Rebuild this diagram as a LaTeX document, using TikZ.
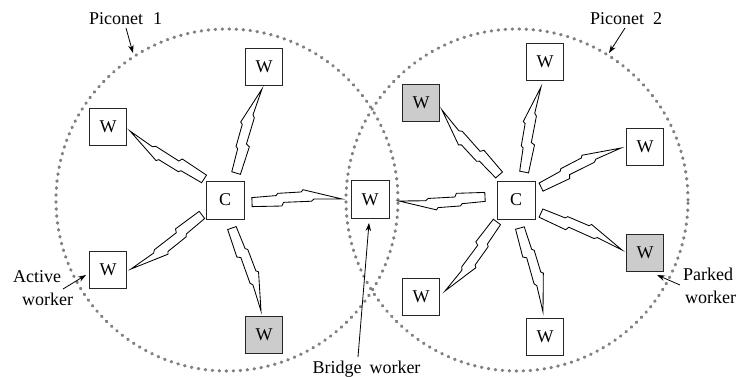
\documentclass[tikz,border=0pt]{standalone}
\usepackage{fontspec}
\setmainfont{Liberation Serif}
\usetikzlibrary{calc,arrows.meta}
\newcommand\lbolt[2]{%
 \draw[boltline] ($(#1)!4.4pt!90:(#2)$) -- ($(#1)!.27!(#2)!5.6pt!90:(#2)$) -- ($(#1)!.29!(#2)!7.8pt!90:(#2)$) -- ($(#1)!.55!(#2)!8.4pt!90:(#2)$) -- ($(#1)!.57!(#2)!10.6pt!90:(#2)$) -- (#2) -- ($(#1)!.69!(#2)!1pt!90:(#2)$) -- ($(#1)!.66!(#2)!1.2pt!-90:(#2)$) -- ($(#1)!.35!(#2)!1.4pt!-90:(#2)$) -- ($(#1)!.33!(#2)!5pt!-90:(#2)$) -- ($(#1)!4.6pt!-90:(#2)$) -- cycle;}
\begin{document}
\begin{tikzpicture}[x=1pt,y=-1pt,
 every node/.style={font=\fontsize{18}{22}\selectfont},
 wbox/.style={draw=black!85,line width=0.9pt,minimum size=37pt,inner sep=0pt,fill=white},
 parked/.style={wbox,fill=gray!40},
 piconet/.style={draw=gray,line width=3.2pt,dash pattern=on 0.6pt off 6.4pt,line cap=round},
 boltline/.style={draw=black,line width=0.85pt,line join=miter},
 pointer/.style={-{Stealth[length=8pt,width=5.5pt]},line width=0.8pt},
 lbl/.style={anchor=base west,inner sep=0pt}]
\useasboundingbox (0,0) rectangle (738,376);
% piconet borders
\draw[piconet] (227,200) circle[radius=171pt];
\draw[piconet] (517,200) circle[radius=171pt];
% nodes, piconet 1
\node[wbox] (w1a) at (264,67) {W};
\node[wbox] (w1b) at (108,127) {W};
\node[wbox,minimum size=38pt] (c1) at (225,200) {C};
\node[wbox] (w1c) at (108,270) {W};
\node[parked] (w1d) at (264,335) {W};
\node[wbox,minimum size=38pt] (wb) at (370,199.5) {W};
% nodes, piconet 2
\node[parked] (w2a) at (421,103) {W};
\node[wbox] (w2b) at (545,62) {W};
\node[wbox] (w2c) at (645,147) {W};
\node[wbox,minimum size=38pt] (c2) at (516,200) {C};
\node[parked] (w2d) at (645,253) {W};
\node[wbox] (w2e) at (421,297) {W};
\node[wbox] (w2f) at (545,337) {W};
% bolt end points
\coordinate (s1) at (236,173); \coordinate (t1) at (262,89);
\coordinate (s2) at (204,179); \coordinate (t2) at (130,131);
\coordinate (s3) at (202,215); \coordinate (t3) at (131,269);
\coordinate (s4) at (232,228); \coordinate (t4) at (261,311);
\coordinate (s5) at (252,202); \coordinate (t5) at (342,199);
\coordinate (s6) at (485,197); \coordinate (t6) at (399,201);
\coordinate (s7) at (499,175); \coordinate (t7) at (442,110);
\coordinate (s8) at (524,172); \coordinate (t8) at (541,87);
\coordinate (s9) at (541,187); \coordinate (t9) at (621,148);
\coordinate (s10) at (541,213); \coordinate (t10) at (622,250);
\coordinate (s11) at (497,222); \coordinate (t11) at (445,291);
\coordinate (s12) at (520,228); \coordinate (t12) at (543,312);
\foreach \i in {1,...,12}{\lbolt{s\i}{t\i}}
% labels
\node[lbl] (lp1) at (89,24) {Piconet\hspace{10pt}1};
\node[lbl] (lp2) at (590,24) {Piconet\hspace{9pt}2};
\node[lbl] (la1) at (13,282) {Active};
\node[lbl] (la2) at (22,305) {worker};
\node[lbl,anchor=base] (lb) at (366.5,373) {Bridge\hspace{8pt}worker};
\node[lbl] (lk1) at (683,280) {Parked};
\node[lbl] (lk2) at (685,303) {worker};
% pointers
\coordinate (p1s) at (126,28); \coordinate (p1t) at (133,53);
\coordinate (p2s) at (625,28); \coordinate (p2t) at (609,53);
\coordinate (pas) at (63,289); \coordinate (pat) at (86,275);
\coordinate (pbs) at (358,357); \coordinate (pbt) at (369,223);
\coordinate (pks) at (680,285); \coordinate (pkt) at (657,275);
\draw[pointer] (p1s) -- (p1t);
\draw[pointer] (p2s) -- (p2t);
\draw[pointer] (pas) -- (pat);
\draw[pointer] (pbs) -- (pbt);
\draw[pointer] (pks) -- (pkt);
\end{tikzpicture}
\end{document}
